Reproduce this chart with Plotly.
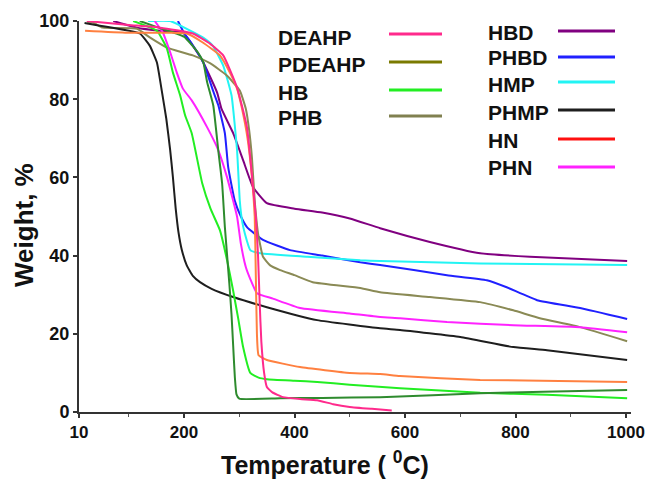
import plotly.graph_objects as go

# --- TGA curves: temperature (°C) vs residual weight (%) ---
names = ["DEAHP", "PDEAHP", "HB", "PHB", "HBD", "PHBD", "HMP", "PHMP", "HN", "PHN"]

deahp_t = [24, 100, 157, 216, 247, 271, 296, 314, 324, 330, 334, 337, 340, 345, 350, 360, 379, 410, 441, 470, 500, 540, 576]
deahp_w = [100, 99, 98.3, 96.8, 94.2, 91.2, 83, 72.8, 59, 50, 40, 28, 18, 10, 6.4, 5, 3.8, 3.3, 3, 2.0, 1.3, 0.8, 0.4]

pdeahp_t = [120, 150, 200, 225, 235, 242, 253, 262, 269, 274, 282, 286, 289, 292, 295, 300, 374, 450, 555, 650, 736, 850, 1002]
pdeahp_w = [100, 98.5, 96, 92, 89.4, 84.3, 78.4, 67, 58.5, 47.3, 33, 25, 17, 9, 4.5, 3.4, 3.5, 3.6, 3.8, 4.3, 4.8, 5.2, 5.6]

hb_t = [108, 151, 169, 180, 193, 202, 214, 233, 248, 265, 278, 289, 298, 307, 320, 335, 350, 400, 441, 500, 591, 736, 857, 1002]
hb_w = [100, 97.5, 93, 86.8, 81, 75.9, 71.3, 58.5, 52, 46.5, 38.8, 31, 24, 16.6, 10, 8.8, 8.4, 8, 7.7, 7, 6.1, 4.9, 4.4, 3.5]

phb_t = [25, 35, 53, 115, 138, 169, 216, 247, 278, 301, 312, 318, 323, 328, 334, 343, 356, 374, 400, 433, 519, 555, 645, 736, 796, 844, 917, 1002]
phb_w = [99.5, 99.6, 98.3, 98, 95.8, 93.2, 91.2, 89.2, 86, 82.2, 77.5, 72, 65, 54, 45.7, 39.7, 37.5, 36.3, 35, 33.2, 31.7, 30.6, 29.4, 28.1, 26, 24, 21.7, 18.1]

hbd_t = [72, 115, 157, 198, 216, 235, 260, 268, 289, 307, 325, 350, 400, 450, 500, 555, 645, 736, 826, 1002]
hbd_w = [100, 98.3, 97.5, 97, 93.7, 89.4, 81.7, 77.5, 71.3, 64.4, 57.5, 53.4, 52, 51, 49.5, 47, 43.5, 40.6, 39.7, 38.6]

phbd_t = [189, 200, 215, 235, 253, 262, 274, 280, 292, 303, 314, 343, 392, 450, 519, 555, 676, 748, 784, 839, 917, 1002]
phbd_w = [100, 97, 94, 89.4, 82, 78.5, 71.3, 62.6, 54, 50, 47.3, 44, 41.4, 40, 38.3, 37.6, 35, 33.7, 31.9, 28.6, 26.6, 23.8]

hmp_t = [135, 175, 205, 234, 252, 271, 286, 296, 301, 305, 310, 320, 338, 423, 519, 555, 736, 1002]
hmp_w = [100, 100, 98, 95.8, 93.7, 88.6, 81, 67, 54, 49, 45.7, 41.4, 40.6, 39.7, 38.8, 38.6, 38, 37.6]

phmp_t = [20, 48, 120, 138, 151, 160, 168, 175, 180, 185, 190, 196, 205, 216, 229, 250, 289, 350, 441, 555, 591, 700, 796, 857, 1002]
phmp_w = [99.5, 98.8, 96.8, 93.7, 89.4, 82, 75, 67, 60, 52, 46, 41.5, 37.5, 34.8, 33.2, 31.5, 29.4, 26.8, 23.5, 21.4, 21, 19.2, 16.6, 15.8, 13.3]

hn_t = [21, 97, 175, 205, 234, 265, 283, 296, 305, 315, 323, 328, 330, 332, 335, 350, 410, 500, 555, 591, 736, 1002]
hn_w = [97.5, 97, 97, 96.8, 94.5, 91.2, 86.8, 82.7, 77.6, 70, 60, 50, 35, 20, 14.5, 13.3, 11.5, 10, 9.7, 9.2, 8.2, 7.7]

phn_t = [147, 162, 175, 187, 198, 214, 242, 262, 278, 296, 303, 312, 320, 332, 361, 410, 500, 555, 591, 676, 796, 917, 1002]
phn_w = [100, 97, 92, 86.8, 82.7, 79.7, 72.8, 67, 60, 50, 43, 37, 34, 30.4, 29, 26.6, 25.2, 24.3, 24, 23, 22.2, 21.7, 20.4]

temps = [deahp_t, pdeahp_t, hb_t, phb_t, hbd_t, phbd_t, hmp_t, phmp_t, hn_t, phn_t]
weights = [deahp_w, pdeahp_w, hb_w, phb_w, hbd_w, phbd_w, hmp_w, phmp_w, hn_w, phn_w]

# curve colours and legend-key colours
line_colors = ["#ff2a8c", "#2e8b2e", "#22ee22", "#8a8a55", "#800080",
               "#2020ff", "#22f4f4", "#1e1e1e", "#ff8040", "#ff22ff"]
key_colors = ["#ff2a8c", "#7a7a00", "#22ee22", "#808050", "#800080",
              "#2020ff", "#22f4f4", "#1e1e1e", "#ff1010", "#ff22ff"]

x_ticks = [10, 200, 400, 600, 800, 1000]
x_minor_ticks = [100, 300, 500, 700, 900]
y_ticks = [0, 20, 40, 60, 80, 100]

FONT = "Liberation Sans, Arial, sans-serif"

fig = go.Figure()
# draw order so the lower-lying curves sit on top in the steep region
for i in [4, 5, 6, 3, 9, 7, 2, 1, 8, 0]:
    fig.add_trace(go.Scatter(
        x=temps[i], y=weights[i], mode="lines", name=names[i],
        line=dict(color=line_colors[i], width=2, shape="spline", smoothing=0.4),
        showlegend=False,
    ))

W_PLOT, H_PLOT, L, T = 552, 391, 79, 21


def px_to_paper(px, py):
    return (px - L) / W_PLOT, 1 - (py - T) / H_PLOT


# two-column key: label on the left, colour sample on the right
left_rows = [(0, 38, 34), (1, 65, 62), (2, 92, 90), (3, 118, 116)]
right_rows = [(4, 32, 31), (5, 58, 57), (6, 84, 82), (7, 112, 110), (8, 140, 139), (9, 167, 167)]
shapes, annotations = [], []
for rows, tx, lx0, lx1 in [(left_rows, 276, 389, 442), (right_rows, 486, 558, 615)]:
    for idx, ty, ly in rows:
        ax, ay = px_to_paper(tx, ty)
        annotations.append(dict(
            x=ax, y=ay, xref="paper", yref="paper", text=names[idx],
            showarrow=False, xanchor="left", yanchor="middle",
            font=dict(family=FONT, size=21, color="#111", weight="bold"),
        ))
        x0, y0 = px_to_paper(lx0, ly)
        x1, _ = px_to_paper(lx1, ly)
        shapes.append(dict(type="line", xref="paper", yref="paper",
                           x0=x0, x1=x1, y0=y0, y1=y0,
                           line=dict(color=key_colors[idx], width=3)))

# axis titles
tx, ty = px_to_paper(325, 463)
annotations.append(dict(
    x=tx, y=ty, xref="paper", yref="paper", showarrow=False,
    text="Temperature ( <sup>0</sup>C)", xanchor="center", yanchor="middle",
    font=dict(family=FONT, size=25, color="#111", weight="bold"),
))
tx, ty = px_to_paper(24, 225)
annotations.append(dict(
    x=tx, y=ty, xref="paper", yref="paper", showarrow=False,
    text="Weight, %", textangle=-90, xanchor="center", yanchor="middle",
    font=dict(family=FONT, size=26, color="#111", weight="bold"),
))

fig.update_layout(
    width=646, height=480,
    margin=dict(l=L, r=646 - L - W_PLOT, t=T, b=480 - T - H_PLOT, autoexpand=False),
    paper_bgcolor="white", plot_bgcolor="white",
    shapes=shapes, annotations=annotations,
    font=dict(family=FONT, color="#111"),
)
fig.update_xaxes(
    range=[10, 1009], showgrid=False, zeroline=False, automargin=False,
    showline=True, linecolor="#333", linewidth=2,
    tickmode="array", tickvals=x_ticks, ticklabeloverflow="allow",
    ticks="outside", ticklen=4, tickwidth=2, tickcolor="#333",
    minor=dict(tickvals=x_minor_ticks, ticks="outside", ticklen=3,
               tickwidth=1, tickcolor="#555"),
    tickfont=dict(family=FONT, size=17, weight="bold", color="#111"),
)
fig.update_yaxes(
    range=[0, 100], showgrid=False, zeroline=False, automargin=False,
    showline=True, linecolor="#333", linewidth=2,
    tickmode="array", tickvals=y_ticks,
    ticks="outside", ticklen=4, tickwidth=2, tickcolor="#333",
    tickfont=dict(family=FONT, size=18, weight="bold", color="#111"),
)

fig.write_html("out.html")
